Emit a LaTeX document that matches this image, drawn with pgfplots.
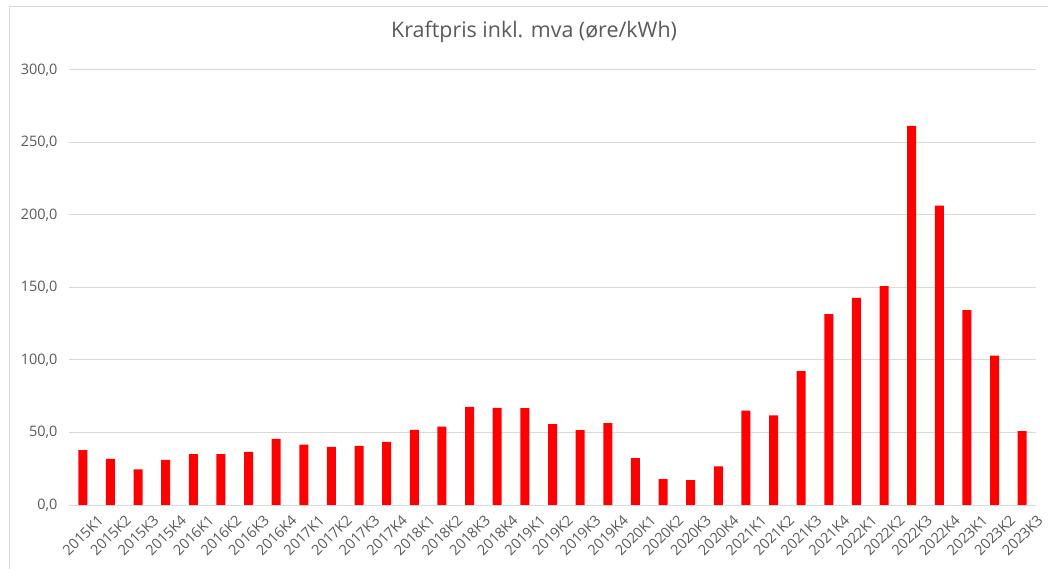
\documentclass[border=0pt]{standalone}
\usepackage{fontspec}
\setmainfont{Open Sans}
\usepackage{pgfplots}
\pgfplotsset{compat=1.18}
\definecolor{gridgray}{HTML}{D9D9D9}
\definecolor{txtgray}{HTML}{595959}
\begin{document}
\begin{tikzpicture}
\useasboundingbox (0,0) rectangle (1048bp,569bp);
\draw[gridgray, line width=1bp] (9bp,0) -- (9bp,562bp) -- (1048bp,562bp);
\begin{axis}[
  at={(69bp,64bp)}, anchor=south west,
  scale only axis, width=967bp, height=435bp,
  ybar, bar width=9bp,
  xmin=-0.5, xmax=34.5, ymin=0, ymax=300,
  ytick={0,50,...,300},
  xtick={0,...,34},
  xticklabels={2015K1,2015K2,2015K3,2015K4,2016K1,2016K2,2016K3,2016K4,
    2017K1,2017K2,2017K3,2017K4,2018K1,2018K2,2018K3,2018K4,
    2019K1,2019K2,2019K3,2019K4,2020K1,2020K2,2020K3,2020K4,
    2021K1,2021K2,2021K3,2021K4,2022K1,2022K2,2022K3,2022K4,
    2023K1,2023K2,2023K3},
  axis x line*=bottom, axis y line*=left,
  y axis line style={draw=none},
  x axis line style={gridgray, line width=1bp, -},
  major tick length=0pt,
  ymajorgrids, grid style={gridgray, line width=1bp},
  tick label style={font=\fontsize{14.5}{17}\selectfont, text=txtgray},
  /pgf/number format/assume math mode=true,
  /pgf/number format/.cd, use comma, fixed, fixed zerofill, precision=1, 1000 sep={},
  /pgfplots/.cd,
  yticklabel style={xshift=-8bp},
  x tick label style={rotate=45, anchor=north east, inner sep=0pt, xshift=4bp, yshift=-16bp},
  title={Kraftpris inkl. mva (øre/kWh)},
  title style={at={(0.481,1)}, anchor=center, yshift=32bp,
    font=\fontsize{21.5}{25}\selectfont, text=txtgray},
]
\addplot[fill=red, draw=none] coordinates {
  (0,37.8) (1,31.8) (2,24.5) (3,31.1) (4,35.0) (5,35.0) (6,36.6) (7,45.6)
  (8,41.6) (9,40.0) (10,40.7) (11,43.5) (12,51.8) (13,54.0) (14,67.7) (15,67.0)
  (16,66.8) (17,55.7) (18,51.7) (19,56.5) (20,32.3) (21,17.8) (22,17.1) (23,26.6)
  (24,65.1) (25,61.8) (26,92.4) (27,131.6) (28,142.8) (29,151.0) (30,261.4) (31,206.5)
  (32,134.4) (33,103.0) (34,51.0)
};
\end{axis}
\end{tikzpicture}
\end{document}
